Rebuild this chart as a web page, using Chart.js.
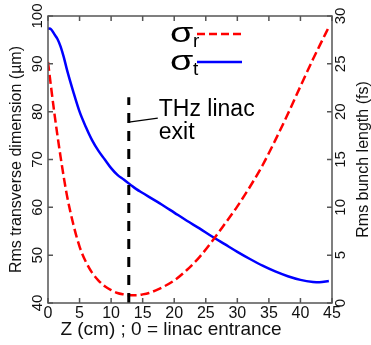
<!DOCTYPE html>
<html lang="en">
<head>
    <meta charset="UTF-8" />
    <title>Transverse size and bunch length along the linac</title>
    <script src="https://cdn.jsdelivr.net/npm/chart.js"></script>
    <style>
        html, body { margin: 0; padding: 0; background: #fff; }
        #wrap { width: 371px; height: 345px; }
    </style>
</head>
<body>
    <div id="wrap"><canvas id="chart" width="371" height="345"></canvas></div>

    <script>
        // position along the linac (cm)
        const zCm = [0, 0.5, 1, 1.5, 2, 2.5, 3, 4, 5, 6, 7, 8, 9, 10, 11, 12, 13, 14, 15, 16, 17, 18,
                     20, 22, 24, 26, 28, 30, 32, 34, 36, 38, 40, 42, 43, 44.5];
        // rms transverse dimension (um), left axis
        const sigmaR = [90.4, 85.0, 79.8, 75.0, 70.5, 66.3, 62.5, 56.5, 51.8, 48.6, 46.3, 44.7, 43.5, 42.7, 42.1, 41.8, 41.6, 41.6, 41.8, 42.1, 42.6, 43.2,
                        44.7, 46.9, 49.6, 52.9, 56.5, 60.2, 64.3, 68.8, 74.0, 79.5, 85.3, 91.0, 93.7, 97.7];
        // rms bunch length (fs), right axis
        const sigmaT = [28.7, 28.6, 28.1, 27.6, 26.8, 25.7, 24.4, 22.1, 20.0, 18.4, 17.0, 15.9, 15.0, 14.1, 13.4, 12.9, 12.4, 11.9, 11.5, 11.1, 10.7, 10.3,
                        9.45, 8.6, 7.8, 6.95, 6.15, 5.35, 4.6, 3.9, 3.3, 2.8, 2.42, 2.2, 2.16, 2.3];

        // THz linac exit marker
        const exitZ = 12.8;
        const exitSpan = [40, 83];
        const exitLeaderAt = 77.8;

        // tick labels
        const xTicks = [0, 5, 10, 15, 20, 25, 30, 35, 40, 45];
        const leftTicks = [40, 50, 60, 70, 80, 90, 100];
        const rightTicks = [0, 5, 10, 15, 20, 25, 30];

        const FONT = '"Liberation Sans", Arial, sans-serif';

        // draws the MATLAB-like box, inward ticks, rotated labels, legend and note
        const decor = {
            id: 'decor',
            afterDraw(chart) {
                const { ctx, chartArea: a } = chart;
                const x = chart.scales.x, y = chart.scales.y, y1 = chart.scales.y1;
                ctx.save();

                // box + ticks
                ctx.strokeStyle = '#555';
                ctx.lineWidth = 1.5;
                ctx.strokeRect(a.left, a.top, a.right - a.left, a.bottom - a.top);
                ctx.beginPath();
                xTicks.forEach(v => {
                    const px = x.getPixelForValue(v);
                    ctx.moveTo(px, a.bottom); ctx.lineTo(px, a.bottom - 5);
                    ctx.moveTo(px, a.top); ctx.lineTo(px, a.top + 5);
                });
                leftTicks.forEach(v => {
                    const py = y.getPixelForValue(v);
                    ctx.moveTo(a.left, py); ctx.lineTo(a.left + 5, py);
                });
                rightTicks.forEach(v => {
                    const py = y1.getPixelForValue(v);
                    ctx.moveTo(a.right, py); ctx.lineTo(a.right - 5, py);
                });
                ctx.stroke();

                // tick labels
                ctx.fillStyle = '#111';
                ctx.textAlign = 'center';
                ctx.textBaseline = 'middle';
                ctx.font = '16px ' + FONT;
                xTicks.forEach(v => ctx.fillText(String(v), x.getPixelForValue(v), a.bottom + 11));

                ctx.font = '15px ' + FONT;
                const rotText = (t, cx, cy) => {
                    ctx.save();
                    ctx.translate(cx, cy);
                    ctx.rotate(-Math.PI / 2);
                    ctx.fillText(t, 0, 0);
                    ctx.restore();
                };
                leftTicks.forEach(v => rotText(String(v), a.left - 10, y.getPixelForValue(v)));
                rightTicks.forEach(v => rotText(String(v), a.right + 9, y1.getPixelForValue(v)));

                // axis titles
                const midY = (a.top + a.bottom) / 2;
                ctx.font = '16px ' + FONT;
                rotText('Rms transverse dimension (\u00b5m)', a.left - 31, midY);
                rotText('Rms bunch length (fs)', a.right + 32, midY);
                ctx.font = '19px ' + FONT;
                ctx.fillText('Z (cm) ; 0 = linac entrance', a.left + 123, a.bottom + 27);

                // legend
                const lx = a.left + 122;
                const entries = [
                    { sub: 'r', color: '#ff0000', dash: [8, 4], base: a.top + 26 },
                    { sub: 't', color: '#0000ff', dash: [], base: a.top + 54 }
                ];
                ctx.textAlign = 'left';
                ctx.textBaseline = 'alphabetic';
                entries.forEach(e => {
                    ctx.save();
                    ctx.translate(lx, e.base);
                    ctx.scale(1.4, 1);
                    ctx.font = '27px ' + FONT;
                    ctx.fillStyle = '#000';
                    ctx.fillText('\u03c3', 0, 0);
                    ctx.restore();
                    ctx.font = '19px ' + FONT;
                    ctx.fillStyle = '#000';
                    ctx.fillText(e.sub, lx + 23, e.base + 5);
                    ctx.strokeStyle = e.color;
                    ctx.lineWidth = 2.5;
                    ctx.setLineDash(e.dash);
                    ctx.beginPath();
                    ctx.moveTo(lx + 27, e.base - 8);
                    ctx.lineTo(lx + 72, e.base - 8);
                    ctx.stroke();
                    ctx.setLineDash([]);
                });

                // THz linac exit note
                const ex = x.getPixelForValue(exitZ);
                const ey = y.getPixelForValue(exitLeaderAt);
                ctx.strokeStyle = '#000';
                ctx.lineWidth = 1.2;
                ctx.beginPath();
                ctx.moveTo(ex, ey);
                ctx.lineTo(ex + 29, ey - 4);
                ctx.stroke();
                ctx.fillStyle = '#000';
                ctx.font = '23px ' + FONT;
                ctx.fillText('THz linac', ex + 30, ey - 6);
                ctx.fillText('exit', ex + 30, ey + 17);

                ctx.restore();
            }
        };

        new Chart(document.getElementById('chart'), {
            type: 'line',
            data: {
                datasets: [
                    {
                        label: 'THz linac exit',
                        data: exitSpan.map(v => ({ x: exitZ, y: v })),
                        yAxisID: 'y',
                        borderColor: '#000',
                        borderWidth: 3,
                        borderDash: [10, 8],
                        pointRadius: 0
                    },
                    {
                        label: '\u03c3r',
                        data: zCm.map((z, i) => ({ x: z, y: sigmaR[i] })),
                        yAxisID: 'y',
                        borderColor: '#ff0000',
                        borderWidth: 2.5,
                        borderDash: [9, 4],
                        pointRadius: 0,
                        cubicInterpolationMode: 'monotone'
                    },
                    {
                        label: '\u03c3t',
                        data: zCm.map((z, i) => ({ x: z, y: sigmaT[i] })),
                        yAxisID: 'y1',
                        borderColor: '#0000ff',
                        borderWidth: 2.5,
                        pointRadius: 0,
                        cubicInterpolationMode: 'monotone'
                    }
                ]
            },
            options: {
                responsive: false,
                animation: false,
                layout: { padding: { top: 16 } },
                plugins: { legend: { display: false }, tooltip: { enabled: false } },
                scales: {
                    x: {
                        type: 'linear', min: 0, max: 45,
                        ticks: { display: false },
                        grid: { display: false, drawTicks: false },
                        border: { display: false },
                        afterFit: s => { s.height = 42; }
                    },
                    y: {
                        position: 'left', min: 40, max: 100,
                        ticks: { display: false },
                        grid: { display: false, drawTicks: false },
                        border: { display: false },
                        afterFit: s => { s.width = 48; }
                    },
                    y1: {
                        position: 'right', min: 0, max: 30,
                        ticks: { display: false },
                        grid: { display: false, drawTicks: false },
                        border: { display: false },
                        afterFit: s => { s.width = 39; }
                    }
                }
            },
            plugins: [decor]
        });
    </script>
</body>
</html>
